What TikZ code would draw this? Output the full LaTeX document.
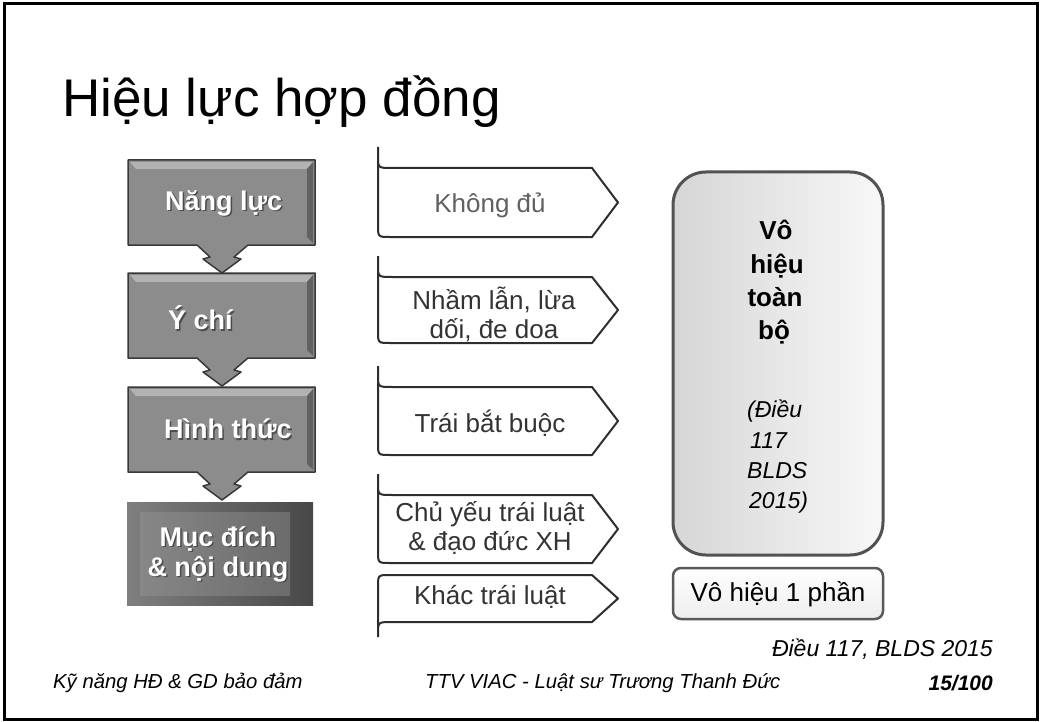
\documentclass[tikz,border=0pt]{standalone}
\usepackage{fontspec}
\setmainfont{Liberation Sans}
\tikzset{
  boxfill/.style={fill=black!45, draw=black!78, line width=1.5pt, line join=round},
  bevel/.style={fill=black!30},
  lbl/.style={font=\fontsize{27}{31}\selectfont\bfseries, text=white, inner sep=0pt},
  lblshadow/.style={font=\fontsize{27}{31}\selectfont\bfseries, text=black!70, inner sep=0pt},
  arrline/.style={draw=black!82, line width=2pt, line join=round, fill=white},
  atext/.style={font=\fontsize{26}{29}\selectfont, text=black!80, align=center, inner sep=0pt},
  btext/.style={font=\fontsize{26}{31}\selectfont\bfseries, anchor=base, inner sep=0pt},
  itext/.style={font=\fontsize{23}{28}\selectfont\itshape, anchor=base west, inner sep=0pt},
  foot/.style={font=\fontsize{20.3}{24}\selectfont\itshape, inner sep=0pt},
}
\newcommand{\leftbox}[1]{%
  \filldraw[boxfill] (128,#1) -- (315,#1) -- (315,#1+85) -- (248,#1+85) -- (234,#1+97)
    -- (241,#1+99) -- (222,#1+113) -- (203,#1+99) -- (210,#1+97) -- (197,#1+85)
    -- (128,#1+85) -- cycle;
  \fill[bevel] (130,#1+2) -- (313,#1+2) -- (307,#1+9) -- (136,#1+9) -- cycle;
  \fill[black!62] (313,#1+2) -- (313,#1+83) -- (307,#1+77) -- (307,#1+9) -- cycle;
}
\newcommand{\tabarrow}[2]{%
  \draw[arrline] (378,#1-21) -- (378,#2-12) .. controls (378,#2) .. (390,#2) -- (592,#2)
    -- (618,{(#1+#2)/2}) -- (592,#1) -- (392,#1) .. controls (378,#1) .. (378,#1-12);
}
\begin{document}
\begin{tikzpicture}[x=1pt,y=-1pt]
\useasboundingbox (0,0) rectangle (1041,722);
\fill[white] (0,0) rectangle (1041,722);
\draw[line width=3pt] (4,4) rectangle (1037,719);

% title
\node[anchor=base west, font=\fontsize{53}{60}\selectfont, inner sep=0pt] (title) at (62,117) {Hiệu lực hợp đồng};

% left column
\leftbox{160}
\leftbox{273}
\leftbox{387}
\shade[left color=black!50, right color=black!72] (127,502) rectangle (313,605);
\shade[inner color=black!40, outer color=black!40, opacity=0.4] (140,512) rectangle (290,595);

\node[lblshadow, anchor=west] at (166.5,204.5) {Năng lực};
\node[lbl, anchor=west] (nangluc) at (165,203) {Năng lực};
\node[lblshadow, anchor=west] at (169.5,319.5) {Ý chí};
\node[lbl, anchor=west] (ychi) at (168,318) {Ý chí};
\node[lblshadow, anchor=west] at (165.5,430.5) {Hình thức};
\node[lbl, anchor=west] (hinhthuc) at (164,429) {Hình thức};
\node[lblshadow, align=center] at (219.5,555.5) {Mục đích\\[-1pt]\& nội dung};
\node[lbl, align=center] (mucdich) at (218,554) {Mục đích\\[-1pt]\& nội dung};

% right tabs
\tabarrow{168}{237}
\tabarrow{277}{343}
\tabarrow{387}{455}
\tabarrow{495}{563}
\draw[arrline] (378,637) -- (378,587) .. controls (378,575) .. (390,575) -- (592,575)
  -- (618,598.5) -- (592,622) -- (392,622) .. controls (378,622) .. (378,634);

\node[atext, text=black!62] (khongdu) at (490,205) {Không đủ};
\node[atext] (nhamlan) at (494,314) {Nhầm lẫn, lừa\\dối, đe doa};
\node[atext] (traibatbuoc) at (490,423) {Trái bắt buộc};
\node[atext] (chuyeu) at (490,528) {Chủ yếu trái luật\\\& đạo đức XH};
\node[atext] (khactrailuat) at (490,597) {Khác trái luật};

% right boxes
\shade[left color=black!16, right color=black!3, rounded corners=33] (673,172) rectangle (883,555);
\draw[draw=black!68, line width=3pt, rounded corners=33] (673,172) rectangle (883,555);
\node[btext] (vo) at (776,240) {Vô};
\node[btext] (hieu) at (777,273) {hiệu};
\node[btext] (toan) at (775,306) {toàn};
\node[btext] (bo) at (774,339) {bộ};
\node[itext] (dieu) at (747,417) {(Điều};
\node[itext] (n117) at (750,448) {117};
\node[itext] (blds) at (747,478) {BLDS};
\node[itext] (y2015) at (749,508) {2015)};

\shade[top color=white, bottom color=black!7, rounded corners=8] (673,568) rectangle (883,619);
\draw[draw=black!65, line width=2.5pt, rounded corners=8] (673,568) rectangle (883,619);
\node[font=\fontsize{26}{30}\selectfont, inner sep=0pt] (vohieu1) at (778,594) {Vô hiệu 1 phần};

% notes and footer
\node[font=\fontsize{23}{27}\selectfont\itshape, anchor=base east, inner sep=0pt] (note) at (993,656) {Điều 117, BLDS 2015};
\node[foot, anchor=base west] (foot1) at (53,688) {Kỹ năng HĐ \& GD bảo đảm};
\node[foot, anchor=base west] (foot2) at (425,688) {TTV VIAC - Luật sư Trương Thanh Đức};
\node[foot, font=\fontsize{21}{24}\selectfont\bfseries\itshape, anchor=base east] (page) at (993,690) {15/100};
\end{tikzpicture}
\end{document}
